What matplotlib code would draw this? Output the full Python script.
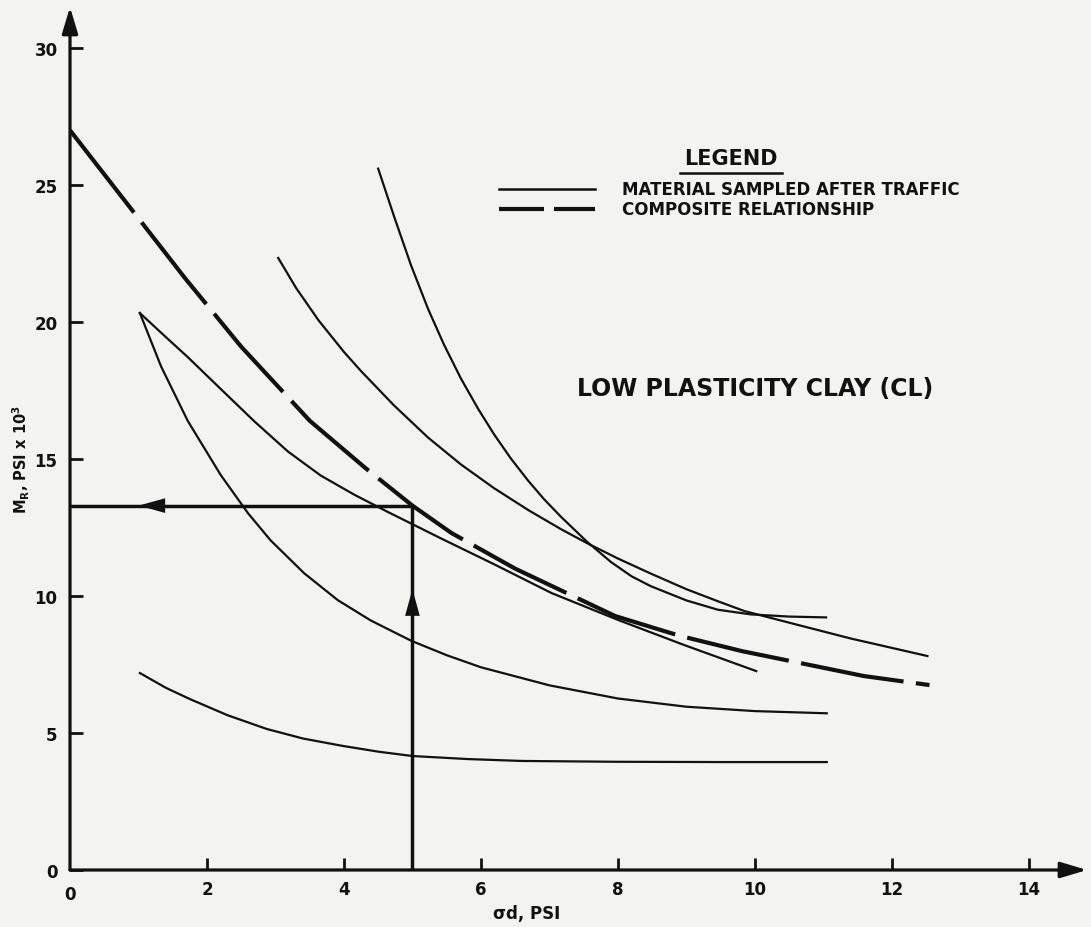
import matplotlib
matplotlib.use("Agg")
import matplotlib.pyplot as plt
from matplotlib.lines import Line2D

plt.rcParams['font.family'] = ['DejaVu Sans']
plt.rcParams['font.weight'] = 'bold'

# ---- data ----
# composite relationship (dashed)
comp_x = [0.0, 1.68, 2.5, 3.5, 4.3, 5.0, 5.57, 6.5, 7.96, 8.9, 9.81, 11.59, 12.55]
comp_y = [27.0, 21.6, 19.1, 16.4, 14.7, 13.3, 12.3, 11.0, 9.27, 8.55, 7.99, 7.08, 6.75]

# material sampled after traffic (solid)
a_x = [1.02, 1.4, 1.72, 2.2, 2.69, 3.18, 3.66, 4.15, 4.64, 5.42, 6.2, 7.03, 8.01, 8.97, 10.02]
a_y = [20.33, 19.45, 18.72, 17.56, 16.38, 15.28, 14.4, 13.7, 13.07, 12.1, 11.15, 10.11, 9.12, 8.21, 7.26]

b_x = [1.02, 1.33, 1.72, 2.2, 2.6, 2.93, 3.42, 3.91, 4.39, 4.98, 5.5, 6.0, 7.0, 8.0, 9.0, 10.0, 11.05]
b_y = [20.33, 18.38, 16.39, 14.42, 13.02, 12.03, 10.83, 9.85, 9.11, 8.37, 7.84, 7.4, 6.74, 6.26, 5.96, 5.8, 5.72]

c_x = [1.02, 1.4, 1.75, 2.3, 2.87, 3.4, 3.98, 4.5, 5.0, 5.8, 6.6, 8.0, 9.5, 11.05]
c_y = [7.19, 6.65, 6.24, 5.65, 5.15, 4.8, 4.53, 4.32, 4.16, 4.05, 3.98, 3.95, 3.94, 3.94]

d_x = [4.5, 4.73, 4.98, 5.23, 5.46, 5.71, 5.96, 6.19, 6.44, 6.69, 6.92, 7.17, 7.55, 7.9,
       8.2, 8.48, 9.0, 9.46, 9.94, 10.5, 11.04]
d_y = [25.6, 23.87, 22.07, 20.47, 19.18, 17.93, 16.83, 15.91, 15.01, 14.21, 13.54, 12.89,
       11.98, 11.24, 10.72, 10.36, 9.84, 9.5, 9.33, 9.25, 9.22]

e_x = [3.04, 3.3, 3.63, 4.0, 4.25, 4.73, 5.23, 5.71, 6.19, 6.69, 7.17, 7.55, 8.0, 8.48,
       9.0, 9.47, 9.85, 10.42, 11.4, 12.52]
e_y = [22.34, 21.25, 20.06, 18.91, 18.21, 16.96, 15.78, 14.8, 13.94, 13.14, 12.44, 11.93,
       11.37, 10.82, 10.25, 9.8, 9.45, 9.08, 8.45, 7.81]

solid_curves = [(a_x, a_y), (b_x, b_y), (c_x, c_y), (d_x, d_y), (e_x, e_y)]

# reading example
read_x = 5.0
read_y = 13.3

x_ticks = [2, 4, 6, 8, 10, 12, 14]
x_labels = ['2', '4', '6', '8', '10', '12', '14']
y_ticks = [0, 5, 10, 15, 20, 25, 30]
y_labels = ['0', '5', '10', '15', '20', '25', '30']

# ---- figure ----
W, H = 1091, 928
fig = plt.figure(figsize=(W / 100, H / 100), dpi=100, facecolor='#f3f3f1')
ax = fig.add_axes([70 / W, (H - 871) / H, 1017 / W, 863 / H])
ax.set_facecolor('none')
ax.set_xlim(0, 14.85)
ax.set_ylim(0, 31.5)
for s in ax.spines.values():
    s.set_visible(False)

ink = '#111111'
axis_arrow = dict(arrowstyle='-|>,head_length=0.8,head_width=0.24', lw=2.3, color=ink,
                  mutation_scale=20, shrinkA=0, shrinkB=0)
ax.annotate('', xy=(14.85, 0), xytext=(0, 0), annotation_clip=False, arrowprops=axis_arrow)
ax.annotate('', xy=(0, 31.5), xytext=(0, 0), annotation_clip=False, arrowprops=axis_arrow)

ax.set_xticks(x_ticks)
ax.set_xticklabels(x_labels)
ax.set_yticks(y_ticks)
ax.set_yticklabels(y_labels)
ax.tick_params(axis='both', direction='in', length=9, width=2, color=ink,
               labelsize=12, labelcolor=ink)
ax.tick_params(axis='x', pad=7)
ax.tick_params(axis='y', pad=9)
ax.text(0, -0.55, '0', ha='center', va='top', fontsize=12, color=ink, fontweight='bold')

# curves
for i, (xs, ys) in enumerate(solid_curves):
    ax.plot(xs, ys, color=ink, lw=1.6, solid_joinstyle='round',
            label='MATERIAL SAMPLED AFTER TRAFFIC' if i == 0 else None)
comp_line, = ax.plot(comp_x, comp_y, color=ink, lw=3.0, dashes=(25, 3),
                     label='COMPOSITE RELATIONSHIP')

# reading lines
ax.plot([0, read_x], [read_y, read_y], color=ink, lw=2.5)
ax.plot([read_x, read_x], [0, read_y], color=ink, lw=2.5)
head = dict(arrowstyle='-|>,head_length=0.8,head_width=0.22', lw=0, color=ink,
            mutation_scale=24, shrinkA=0, shrinkB=0)
ax.annotate('', xy=(1.0, read_y), xytext=(1.5, read_y), arrowprops=head)
ax.annotate('', xy=(read_x, 10.25), xytext=(read_x, 9.2), arrowprops=head)

# legend
fig.text(731 / W, 1 - 159 / H, 'LEGEND', ha='center', va='center', fontsize=15,
         fontweight='bold', color=ink)
fig.add_artist(Line2D([680 / W, 782 / W], [1 - 173.5 / H, 1 - 173.5 / H], color=ink, lw=1.8,
                      transform=fig.transFigure))
handles = [Line2D([], [], color=ink, lw=1.8),
           Line2D([], [], color=ink, lw=3.0, dashes=(10.8, 2.4))]
leg = fig.legend(handles, ['MATERIAL SAMPLED AFTER TRAFFIC', 'COMPOSITE RELATIONSHIP'],
                 loc='upper left', bbox_to_anchor=(495.5 / W, 1 - 178 / H),
                 frameon=False, fontsize=12, handlelength=5.75, handletextpad=1.62,
                 labelspacing=0.12, borderpad=0.2, borderaxespad=0)
for t in leg.get_texts():
    t.set_fontweight('bold')
    t.set_color(ink)

ax.text(7.4, 17.6, 'LOW PLASTICITY CLAY (CL)', fontsize=17, fontweight='bold',
        color=ink, ha='left', va='center')

fig.text(21 / W, 1 - 460 / H, r'M$_\mathbf{R}$, PSI x 10$^\mathbf{3}$', rotation=90,
         ha='center', va='center', fontsize=10.5, fontweight='bold', color=ink)
fig.text(527 / W, 1 - 914 / H, 'σd, PSI', ha='center', va='center', fontsize=12,
         fontweight='bold', color=ink)

fig.savefig('out.png', dpi=100, facecolor=fig.get_facecolor())
